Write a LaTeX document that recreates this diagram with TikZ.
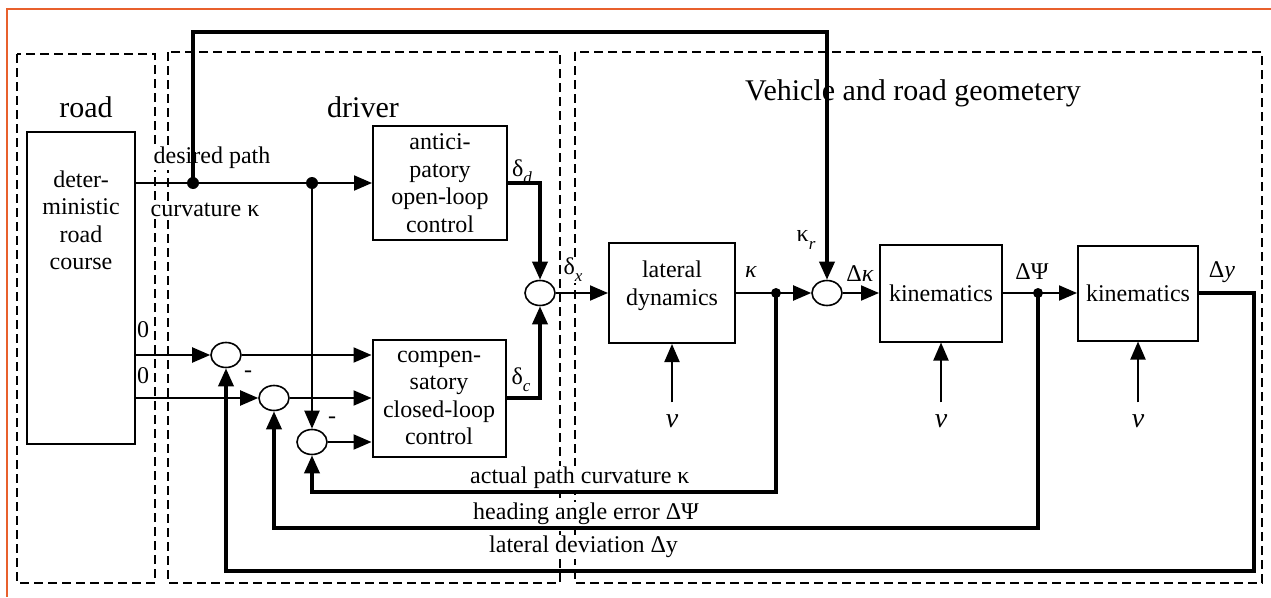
\documentclass[tikz,border=0pt]{standalone}
\usepackage{fontspec}
\setmainfont{Liberation Serif}
\usetikzlibrary{shapes,arrows.meta,positioning}

\newcommand{\blockfont}{\fontsize{24}{27.6}\selectfont}
\newcommand{\titlefont}{\fontsize{30}{34}\selectfont}
\newcommand{\lowidx}[1]{\raisebox{-0.3em}{\fontsize{17}{17}\selectfont\itshape #1}}
\definecolor{framecol}{RGB}{232,96,44}

\begin{document}
\begin{tikzpicture}[
    x=1pt, y=-1pt,
    % Blocks
    block/.style={rectangle, draw=black, line width=2pt, font=\blockfont, align=center, inner sep=0pt},
    sumnode/.style={ellipse, draw=black, line width=1.6pt, minimum width=30pt, minimum height=25pt, inner sep=0pt},
    dot/.style={circle, fill=black, inner sep=0pt, minimum size=12pt},
    % Signals
    sig/.style={-{Triangle[length=18pt, width=15pt]}, line width=2pt},
    fb/.style={-{Triangle[length=18pt, width=15pt]}, line width=3.5pt},
    sig_label/.style={font=\blockfont, inner sep=1pt},
    vlabel/.style={font=\fontsize{28}{30}\selectfont\itshape, inner sep=0pt, outer sep=12pt},
    % Groups
    group/.style={draw=black, line width=1.6pt, dash pattern=on 9pt off 5pt},
    title/.style={font=\titlefont}
]
\useasboundingbox (0,0) rectangle (1271,597);

% Frame
\draw[framecol, line width=2.5pt] (1271,9) -- (7,9) -- (7,597);

% Groups
\draw[group] (17,54) rectangle (155,583);
\draw[group] (168,52) rectangle (560,583);
\draw[group] (575,52) rectangle (1262,583);
\node[title] (t_road) at (86,107) {road};
\node[title] (t_driver) at (363,107) {driver};
\node[title] (t_vehicle) at (913,93) {Vehicle and road geometery};

% Blocks
\node[block, minimum width=108pt, minimum height=312pt] (course) at (81,288) {};
\node[font=\blockfont, align=center, below=36pt of course.north] (coursetext) {deter-\\ministic\\road\\course};
\node[block, minimum width=134pt, minimum height=114pt] (antic) at (440,183) {antici-\\patory\\open-loop\\control};
\node[block, minimum width=133pt, minimum height=117pt] (comp) at (439,398) {compen-\\satory\\closed-loop\\control};
\node[block, minimum width=126pt, minimum height=100pt] (lateral) at (672,293) {};
\node[font=\blockfont, align=center] (lateraltext) at (672,286) {lateral\\dynamics};
\node[block, minimum width=122pt, minimum height=97pt] (kin1) at (941,293) {kinematics};
\node[block, minimum width=120pt, minimum height=95pt] (kin2) at (1138,293) {kinematics};

% Summing points
\node[sumnode] (sumx) at (540,293) {};
\node[sumnode] (sumk) at (827,293) {};
\node[sumnode] (suma) at (226,355) {};
\node[sumnode] (sumb) at (274,398) {};
\node[sumnode] (sumc) at (312,442) {};

% Branch points
\node[dot] (jd) at (193,183) {};
\node[dot] (jp) at (312,183) {};
\node[dot, minimum size=10pt] (jk) at (776,293) {};
\node[dot, minimum size=10pt] (jpsi) at (1038,293) {};
\coordinate (ctop) at (827,32);
\coordinate (cy) at (1254,571);
\coordinate (cpsi) at (1038,528);
\coordinate (ck) at (776,492);

% Speed inputs
\node[vlabel] (v1) at (672,421) {v};
\node[vlabel] (v2) at (941,421) {v};
\node[vlabel] (v3) at (1138,421) {v};

% Signal labels
\node[sig_label, fill=white] (l_desired) at (212,158) {desired path};
\node[sig_label, fill=white] (l_curv) at (205,210) {curvature κ};
\node[sig_label] (l_zero1) at (143,330) {0};
\node[sig_label] (l_zero2) at (143,376) {0};
\node[sig_label] (l_minus1) at (248,374) {-};
\node[sig_label] (l_minus2) at (332,420) {-};
\node[sig_label] (l_dd) at (522,172) {δ\lowidx{d}};
\node[sig_label] (l_dc) at (521,380) {δ\lowidx{c}};
\node[sig_label, fill=white] (l_dx) at (573,270) {δ\lowidx{x}};
\node[sig_label] (l_k) at (751,272) {\textit{κ}};
\node[sig_label] (l_kr) at (806,240) {κ\lowidx{r}};
\node[sig_label] (l_dk) at (860,274) {Δ\textit{κ}};
\node[sig_label] (l_dpsi) at (1032,272) {ΔΨ};
\node[sig_label] (l_dy) at (1222,272) {Δ\textit{y}};
\node[sig_label, fill=white, anchor=west] (l_act) at (469,478) {actual path curvature κ};
\node[sig_label, fill=white, anchor=west] (l_head) at (472,514) {heading angle error ΔΨ};
\node[sig_label, fill=white, anchor=west] (l_lat) at (488,547) {lateral deviation Δy};

% Forward path
\draw[sig] (course.east |- jd) -- (antic.west);
\draw[fb] (jd.center) |- (ctop) -- (sumk.north);
\draw[fb] (antic.east) -| (sumx.north);
\draw[fb] (comp.east) -| (sumx.south);
\draw[sig] (sumx.east) -- (lateral.west);
\draw[sig] (lateral.east) -- (sumk.west);
\draw[sig] (sumk.east) -- (kin1.west);
\draw[sig] (kin1.east) -- (kin2.west);

% Driver inputs
\draw[sig] (course.east |- suma) -- (suma.west);
\draw[sig] (course.east |- sumb) -- (sumb.west);
\draw[sig] (jp.center) -- (sumc.north);
\draw[sig] (suma.east) -- (comp.west |- suma);
\draw[sig] (sumb.east) -- (comp.west |- sumb);
\draw[sig] (sumc.east) -- (comp.west |- sumc);

% Feedback loops
\draw[fb] (kin2.east) -| (cy) -| (suma.south);
\draw[fb] (jpsi.center) -- (cpsi) -| (sumb.south);
\draw[fb] (jk.center) -- (ck) -| (sumc.south);

% Speed
\draw[sig] (v1.north) -- (lateral.south);
\draw[sig] (v2.north) -- (kin1.south);
\draw[sig] (v3.north) -- (kin2.south);

\end{tikzpicture}
\end{document}
